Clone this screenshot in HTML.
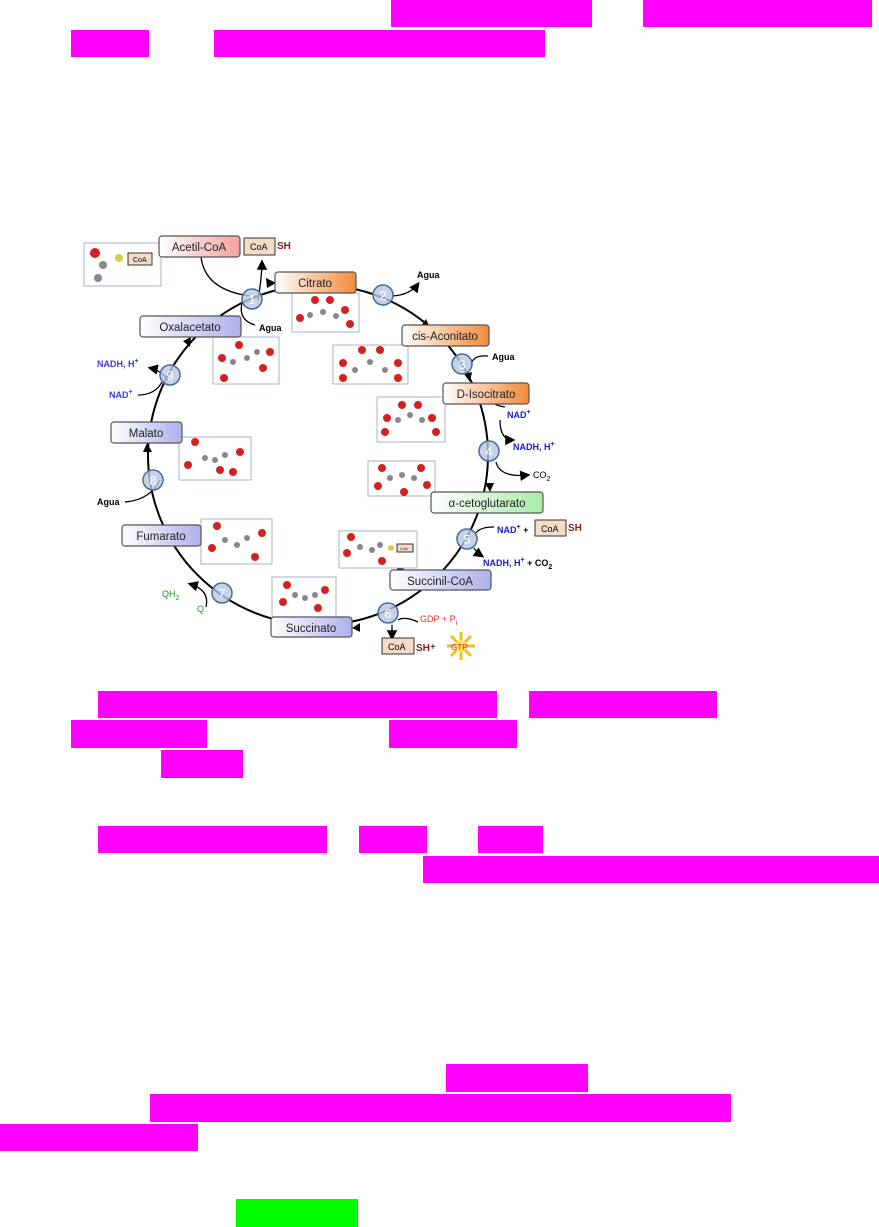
<!DOCTYPE html>
<html><head><meta charset="utf-8"><style>
html,body{margin:0;padding:0;background:#fff;width:879px;height:1227px;overflow:hidden;position:relative;font-family:"Liberation Sans",sans-serif}
.m{position:absolute;background:#ff00ff}
.g{position:absolute;background:#00ff00}
svg{position:absolute;left:0;top:0}
</style></head><body>
<div class="m" style="left:391px;top:0;width:201px;height:27px"></div>
<div class="m" style="left:643px;top:0;width:229px;height:27px"></div>
<div class="m" style="left:71px;top:30px;width:78px;height:27px"></div>
<div class="m" style="left:214px;top:30px;width:331px;height:27px"></div>

<div class="m" style="left:98px;top:691px;width:399px;height:27px"></div>
<div class="m" style="left:529px;top:691px;width:188px;height:27px"></div>
<div class="m" style="left:71px;top:720px;width:136px;height:28px"></div>
<div class="m" style="left:389px;top:720px;width:128px;height:28px"></div>
<div class="m" style="left:161px;top:750px;width:82px;height:28px"></div>
<div class="m" style="left:98px;top:826px;width:229px;height:27px"></div>
<div class="m" style="left:359px;top:826px;width:68px;height:27px"></div>
<div class="m" style="left:478px;top:826px;width:65px;height:27px"></div>
<div class="m" style="left:423px;top:856px;width:456px;height:27px"></div>
<div class="m" style="left:446px;top:1064px;width:142px;height:28px"></div>
<div class="m" style="left:150px;top:1094px;width:581px;height:28px"></div>
<div class="m" style="left:0;top:1124px;width:198px;height:27px"></div>
<div class="g" style="left:236px;top:1199px;width:122px;height:28px"></div>

<svg width="879" height="1227" viewBox="0 0 879 1227" font-family="Liberation Sans, sans-serif">
<defs>
<linearGradient id="pk" x1="0" x2="1"><stop offset="0" stop-color="#fff"/><stop offset="1" stop-color="#f4a0a0"/></linearGradient>
<linearGradient id="or" x1="0" x2="1"><stop offset="0" stop-color="#fff"/><stop offset="1" stop-color="#f08a3c"/></linearGradient>
<linearGradient id="lv" x1="0" x2="1"><stop offset="0" stop-color="#fff"/><stop offset="1" stop-color="#aeb0ec"/></linearGradient>
<linearGradient id="gr" x1="0" x2="1"><stop offset="0" stop-color="#fff"/><stop offset="1" stop-color="#a8eca8"/></linearGradient>
<marker id="ar" markerWidth="8" markerHeight="8" refX="6" refY="4" orient="auto"><path d="M0,0 L8,4 L0,8 z" fill="#000"/></marker>
</defs>
<circle cx="318" cy="455" r="170" fill="none" stroke="#000" stroke-width="2"/>
<!-- arrowheads on ring -->
<g fill="#000">
<path d="M276,283 l-10,-5 l1,10 z"/>
<path d="M430,328 l-9,-2 l5,-7 z"/>
<path d="M470,382 l-6,-8 l8,-2 z"/>
<path d="M490,492 l-5,-9 l9,0 z"/>
<path d="M396,572 l3,-9 l5,6 z"/>
<path d="M352,628 l8,-5 l0,9 z"/>
<path d="M202,547 l2,10 l7,-6 z"/>
<path d="M147,443 l-4,9 l9,0 z"/>
<path d="M191,337 l-8,4 l7,6 z"/>
</g>
<!-- side reaction curves -->
<g fill="none" stroke="#000" stroke-width="1.3">
<path d="M201,257 Q205,290 250,296" />
<path d="M258,300 Q262,275 262,262" marker-end="url(#ar)"/>
<path d="M242,303 Q238,320 255,325"/>
<path d="M392,296 Q410,295 418,284" marker-end="url(#ar)"/>
<path d="M472,362 Q475,355 488,356"/>
<path d="M488,395 Q490,405 505,407"/>
<path d="M500,420 Q500,440 513,440" marker-end="url(#ar)"/>
<path d="M496,462 Q500,478 528,475" marker-end="url(#ar)"/>
<path d="M476,533 Q480,527 494,527"/>
<path d="M474,548 Q476,552 482,556" marker-end="url(#ar)"/>
<path d="M398,620 Q405,616 418,622"/>
<path d="M392,625 L392,638" marker-end="url(#ar)"/>
<path d="M206,607 Q210,590 190,584" marker-end="url(#ar)"/>
<path d="M160,480 Q150,500 125,502"/>
<path d="M168,380 Q160,370 150,368" marker-end="url(#ar)"/>
<path d="M138,395 Q155,395 162,382"/>
</g>
<!-- molecule boxes -->
<g fill="#fff" stroke="#a8b4c8" stroke-width="1">
<rect x="84" y="243" width="77" height="43"/>
<rect x="292" y="293" width="67" height="39"/>
<rect x="213" y="337" width="66" height="47"/>
<rect x="333" y="345" width="75" height="39"/>
<rect x="377" y="397" width="68" height="45"/>
<rect x="179" y="437" width="72" height="43"/>
<rect x="368" y="461" width="67" height="35"/>
<rect x="201" y="519" width="71" height="45"/>
<rect x="339" y="531" width="78" height="37"/>
<rect x="272" y="577" width="64" height="40"/>
</g>
<g fill="#d42020">
<circle cx="95" cy="253" r="5"/>
<circle cx="300" cy="318" r="4"/><circle cx="315" cy="300" r="4"/><circle cx="330" cy="300" r="4"/><circle cx="345" cy="310" r="4"/><circle cx="350" cy="324" r="4"/>
<circle cx="222" cy="358" r="4"/><circle cx="239" cy="345" r="4"/><circle cx="270" cy="352" r="4"/><circle cx="263" cy="368" r="4"/><circle cx="224" cy="378" r="4"/>
<circle cx="343" cy="363" r="4"/><circle cx="362" cy="350" r="4"/><circle cx="380" cy="350" r="4"/><circle cx="398" cy="363" r="4"/><circle cx="343" cy="378" r="4"/><circle cx="398" cy="378" r="4"/>
<circle cx="387" cy="418" r="4"/><circle cx="402" cy="405" r="4"/><circle cx="418" cy="405" r="4"/><circle cx="432" cy="418" r="4"/><circle cx="385" cy="432" r="4"/><circle cx="436" cy="432" r="4"/>
<circle cx="195" cy="442" r="4"/><circle cx="188" cy="465" r="4"/><circle cx="240" cy="452" r="4"/><circle cx="220" cy="470" r="4"/><circle cx="233" cy="472" r="4"/>
<circle cx="382" cy="468" r="4"/><circle cx="421" cy="468" r="4"/><circle cx="378" cy="486" r="4"/><circle cx="427" cy="485" r="4"/><circle cx="404" cy="492" r="4"/>
<circle cx="217" cy="526" r="4"/><circle cx="262" cy="533" r="4"/><circle cx="212" cy="548" r="4"/><circle cx="255" cy="557" r="4"/>
<circle cx="351" cy="537" r="4"/><circle cx="347" cy="553" r="4"/><circle cx="382" cy="561" r="4"/>
<circle cx="287" cy="585" r="4"/><circle cx="325" cy="590" r="4"/><circle cx="283" cy="602" r="4"/><circle cx="318" cy="608" r="4"/>
</g>
<g fill="#888">
<circle cx="103" cy="265" r="4"/><circle cx="98" cy="278" r="4"/>
<circle cx="310" cy="315" r="3"/><circle cx="323" cy="312" r="3"/><circle cx="336" cy="316" r="3"/>
<circle cx="233" cy="362" r="3"/><circle cx="247" cy="358" r="3"/><circle cx="257" cy="352" r="3"/>
<circle cx="355" cy="370" r="3"/><circle cx="370" cy="362" r="3"/><circle cx="385" cy="370" r="3"/>
<circle cx="398" cy="420" r="3"/><circle cx="410" cy="415" r="3"/><circle cx="422" cy="420" r="3"/>
<circle cx="205" cy="458" r="3"/><circle cx="215" cy="460" r="3"/><circle cx="225" cy="455" r="3"/>
<circle cx="390" cy="478" r="3"/><circle cx="402" cy="475" r="3"/><circle cx="414" cy="478" r="3"/>
<circle cx="225" cy="540" r="3"/><circle cx="237" cy="545" r="3"/><circle cx="247" cy="538" r="3"/>
<circle cx="360" cy="547" r="3"/><circle cx="372" cy="550" r="3"/><circle cx="380" cy="545" r="3"/>
<circle cx="295" cy="595" r="3"/><circle cx="305" cy="598" r="3"/><circle cx="315" cy="595" r="3"/>
</g>
<circle cx="119" cy="258" r="4" fill="#d8d040"/>
<circle cx="391" cy="548" r="3" fill="#d8d040"/>
<g fill="#f6dcc8" stroke="#333" stroke-width="1">
<rect x="128" y="253" width="24" height="12"/>
<rect x="244" y="238" width="31" height="17"/>
<rect x="382" y="638" width="32" height="16"/>
<rect x="397" y="544" width="16" height="8"/>
<rect x="535" y="520" width="31" height="16"/>
</g>
<g font-size="7" fill="#000"><text x="133" y="262">CoA</text><text x="400" y="550" font-size="4">CoA</text></g>
<g font-size="9" fill="#000"><text x="250" y="250">CoA</text><text x="388" y="650">CoA</text><text x="541" y="532">CoA</text></g>
<g font-size="10" fill="#8b1a1a" font-weight="bold"><text x="277" y="249">SH</text><text x="416" y="651">SH</text><text x="568" y="531">SH</text></g>
<!-- GTP star -->
<g transform="translate(461,646)" stroke="#f0c020" stroke-width="3">
<line x1="-14" y1="0" x2="14" y2="0"/><line x1="0" y1="-14" x2="0" y2="14"/><line x1="-10" y1="-10" x2="10" y2="10"/><line x1="-10" y1="10" x2="10" y2="-10"/>
<circle r="6" fill="#ffe060" stroke="none"/>
</g>
<text x="451" y="650" font-size="8" fill="#e02020">GTP</text>
<text x="430" y="650" font-size="10" fill="#000">+</text>
<!-- nodes -->
<g stroke="#555" stroke-width="1.2" font-size="11.5">
<rect x="159" y="236" width="81" height="21" rx="3" fill="url(#pk)"/>
<rect x="275" y="272" width="81" height="21" rx="3" fill="url(#or)"/>
<rect x="140" y="316" width="101" height="21" rx="3" fill="url(#lv)"/>
<rect x="402" y="325" width="87" height="21" rx="3" fill="url(#or)"/>
<rect x="443" y="383" width="86" height="21" rx="3" fill="url(#or)"/>
<rect x="111" y="422" width="71" height="21" rx="3" fill="url(#lv)"/>
<rect x="431" y="492" width="112" height="21" rx="3" fill="url(#gr)"/>
<rect x="122" y="525" width="79" height="21" rx="3" fill="url(#lv)"/>
<rect x="390" y="570" width="101" height="20" rx="3" fill="url(#lv)"/>
<rect x="271" y="617" width="81" height="20" rx="3" fill="url(#lv)"/>
</g>
<g font-size="11.5" fill="#222" text-anchor="middle">
<text x="199" y="251">Acetil-CoA</text>
<text x="315" y="287">Citrato</text>
<text x="190" y="331">Oxalacetato</text>
<text x="445" y="340">cis-Aconitato</text>
<text x="486" y="398">D-Isocitrato</text>
<text x="146" y="437">Malato</text>
<text x="487" y="507">α-cetoglutarato</text>
<text x="161" y="540">Fumarato</text>
<text x="440" y="585">Succinil-CoA</text>
<text x="311" y="632">Succinato</text>
</g>
<!-- number circles -->
<g fill="#b8c8e0" stroke="#4a6a9a" stroke-width="1.5" fill-opacity="0.8">
<circle cx="252" cy="299" r="10"/><circle cx="383" cy="295" r="10"/><circle cx="462" cy="364" r="10"/>
<circle cx="489" cy="451" r="10"/><circle cx="467" cy="539" r="10"/><circle cx="388" cy="613" r="10"/>
<circle cx="222" cy="593" r="10"/><circle cx="153" cy="480" r="10"/><circle cx="170" cy="375" r="10"/>
</g>
<g font-size="13" fill="#fff" text-anchor="middle">
<text x="252" y="304">1</text><text x="383" y="300">2</text><text x="462" y="369">3</text>
<text x="489" y="456">4</text><text x="467" y="544">5</text><text x="388" y="618">6</text>
<text x="222" y="598">7</text><text x="153" y="485">8</text><text x="170" y="380">9</text>
</g>
<!-- side labels -->
<g font-size="9" font-weight="bold">
<text x="259" y="331" fill="#000">Agua</text>
<text x="417" y="278" fill="#000">Agua</text>
<text x="492" y="360" fill="#000">Agua</text>
<text x="97" y="505" fill="#000">Agua</text>
<text x="507" y="418" fill="#1a1acc">NAD<tspan dy="-4" font-size="7">+</tspan></text>
<text x="513" y="450" fill="#1a1acc">NADH, H<tspan dy="-4" font-size="7">+</tspan></text>
<text x="97" y="367" fill="#3a3aee">NADH, H<tspan dy="-4" font-size="7">+</tspan></text>
<text x="109" y="398" fill="#3a3aee">NAD<tspan dy="-4" font-size="7">+</tspan></text>
<text x="497" y="533" fill="#1a1acc">NAD<tspan dy="-4" font-size="7">+</tspan><tspan dy="4" fill="#000"> +</tspan></text>
<text x="483" y="566" fill="#1a1acc">NADH, H<tspan dy="-4" font-size="7">+</tspan><tspan dy="4" fill="#000"> + CO</tspan><tspan dy="3" font-size="7" fill="#000">2</tspan></text>
</g>
<text x="533" y="478" font-size="9" fill="#000">CO<tspan dy="3" font-size="7">2</tspan></text>
<text x="420" y="622" font-size="9" fill="#e03030">GDP + P<tspan dy="3" font-size="7">i</tspan></text>
<text x="162" y="597" font-size="9" fill="#2a8a2a">QH<tspan dy="3" font-size="7">2</tspan></text>
<text x="197" y="612" font-size="9" fill="#2a8a2a">Q</text>
</svg>
</body></html>
